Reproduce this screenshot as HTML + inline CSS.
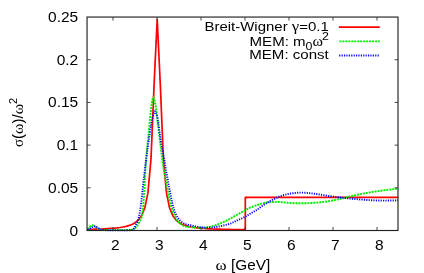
<!DOCTYPE html>
<html><head><meta charset="utf-8"><style>
html,body{margin:0;padding:0;background:#fff;}
svg{display:block;font-family:"Liberation Sans",sans-serif;font-size:14.1px;fill:#000;will-change:transform;}
.sy{font-family:"Liberation Serif",serif;}
</style></head><body>
<svg width="424" height="273" viewBox="0 0 424 273">
<rect width="424" height="273" fill="#fff"/>
<g fill="none" stroke-linejoin="round">
<path d="M87.05,229.43 L89.00,229.38 L92.10,229.31 L95.20,229.21 L98.30,229.11 L101.40,228.98 L104.50,228.84 L107.60,228.66 L110.70,228.45 L113.80,228.20 L116.90,227.88 L120.00,227.48 L123.10,226.97 L126.20,226.31 L129.30,225.42 L132.40,224.18 L135.50,222.41 L138.60,219.74 L141.70,215.45 L144.80,207.97 L147.90,193.13 L151.00,159.10 L154.10,84.55 L157.20,19.33 L160.30,84.55 L163.40,159.10 L166.50,193.13 L169.60,207.97 L172.70,215.45 L175.80,219.74 L178.90,222.41 L182.00,224.18 L185.10,225.42 L188.20,226.31 L191.30,226.97 L194.40,227.48 L197.50,227.88 L200.60,228.20 L203.70,228.45 L206.80,228.66 L209.90,228.84 L213.00,228.98 L216.10,229.11 L219.20,229.21 L222.30,229.31 L225.40,229.38 L228.50,229.45 L231.60,229.51 L234.70,229.57 L237.80,229.62 L240.90,229.66 L244.00,229.70 L245.30,229.71 L245.30,197.40 L398.00,197.40" stroke="#ff0000" stroke-width="1.7"/>
<path d="M87.50,229.30 L88.08,228.59 L88.70,227.93 L89.35,227.32 L90.05,226.73 L90.80,226.09 L91.59,225.56 L92.38,225.31 L93.17,225.43 L93.99,225.83 L94.80,226.36 L95.59,226.85 L96.35,227.39 L97.08,228.00 L97.81,228.60 L98.56,229.11 L99.33,229.45 L100.16,229.58 L101.03,229.68 L101.93,229.76 L102.85,229.83 L103.78,229.88 L104.70,229.90 L105.60,229.90 L106.50,229.90 L107.40,229.90 L108.30,229.90 L109.20,229.90 L110.10,229.90 L111.00,229.90 L111.90,229.90 L112.81,229.90 L113.71,229.90 L114.61,229.90 L115.51,229.90 L116.41,229.90 L117.31,229.90 L118.21,229.90 L119.12,229.90 L120.02,229.90 L120.92,229.90 L121.82,229.90 L122.72,229.90 L123.62,229.90 L124.52,229.90 L125.42,229.90 L126.33,229.90 L127.24,229.89 L128.14,229.87 L129.05,229.86 L129.94,229.83 L130.83,229.81 L131.73,229.73 L132.64,229.52 L133.53,229.22 L134.33,228.88 L135.04,228.46 L135.69,227.87 L136.30,227.16 L136.87,226.39 L137.41,225.63 L137.91,224.89 L138.38,224.12 L138.83,223.33 L139.24,222.53 L139.64,221.72 L140.03,220.90 L140.43,220.08 L140.82,219.25 L141.18,218.41 L141.50,217.56 L141.77,216.71 L141.97,215.85 L142.12,214.98 L142.26,214.12 L142.40,213.24 L142.52,212.36 L142.63,211.48 L142.74,210.59 L142.84,209.70 L142.94,208.80 L143.03,207.90 L143.12,207.00 L143.20,206.10 L143.27,205.19 L143.34,204.29 L143.41,203.38 L143.48,202.47 L143.55,201.56 L143.61,200.65 L143.67,199.74 L143.73,198.84 L143.79,197.93 L143.86,197.03 L143.92,196.12 L143.98,195.22 L144.05,194.33 L144.11,193.43 L144.17,192.53 L144.23,191.63 L144.29,190.73 L144.35,189.83 L144.40,188.93 L144.45,188.03 L144.50,187.13 L144.55,186.23 L144.60,185.33 L144.65,184.43 L144.70,183.53 L144.74,182.63 L144.79,181.73 L144.83,180.83 L144.88,179.93 L144.92,179.03 L144.97,178.13 L145.01,177.23 L145.06,176.33 L145.10,175.43 L145.14,174.53 L145.19,173.63 L145.23,172.73 L145.28,171.83 L145.33,170.93 L145.38,170.03 L145.42,169.13 L145.47,168.23 L145.52,167.33 L145.58,166.43 L145.63,165.53 L145.69,164.63 L145.74,163.73 L145.80,162.83 L145.86,161.93 L145.93,161.03 L145.99,160.14 L146.06,159.24 L146.13,158.34 L146.20,157.44 L146.28,156.54 L146.36,155.65 L146.44,154.75 L146.52,153.85 L146.61,152.96 L146.70,152.06 L146.79,151.16 L146.88,150.27 L146.97,149.37 L147.07,148.47 L147.16,147.58 L147.26,146.68 L147.35,145.78 L147.45,144.89 L147.55,143.99 L147.64,143.09 L147.74,142.20 L147.84,141.30 L147.94,140.41 L148.03,139.51 L148.13,138.61 L148.22,137.72 L148.31,136.82 L148.41,135.92 L148.50,135.03 L148.59,134.13 L148.67,133.23 L148.76,132.34 L148.84,131.44 L148.92,130.54 L149.00,129.64 L149.08,128.74 L149.16,127.84 L149.24,126.95 L149.32,126.05 L149.40,125.15 L149.48,124.25 L149.56,123.35 L149.65,122.45 L149.73,121.55 L149.81,120.66 L149.90,119.76 L149.99,118.86 L150.07,117.97 L150.17,117.07 L150.26,116.17 L150.36,115.28 L150.46,114.38 L150.56,113.49 L150.67,112.60 L150.78,111.70 L150.89,110.81 L151.01,109.92 L151.14,108.96 L151.27,107.91 L151.41,106.79 L151.56,105.63 L151.71,104.45 L151.87,103.28 L152.04,102.14 L152.21,101.06 L152.39,100.06 L152.57,99.18 L152.75,98.42 L152.94,97.83 L153.13,97.42 L153.33,97.22 L153.53,97.28 L153.76,97.67 L154.01,98.35 L154.27,99.24 L154.53,100.28 L154.79,101.42 L155.03,102.57 L155.26,103.69 L155.45,104.70 L155.61,105.59 L155.76,106.48 L155.90,107.36 L156.03,108.25 L156.16,109.14 L156.28,110.03 L156.40,110.92 L156.52,111.82 L156.62,112.71 L156.73,113.61 L156.83,114.50 L156.93,115.40 L157.03,116.30 L157.13,117.20 L157.22,118.10 L157.32,119.00 L157.42,119.90 L157.51,120.79 L157.61,121.69 L157.71,122.59 L157.82,123.49 L157.92,124.38 L158.03,125.28 L158.15,126.17 L158.26,127.06 L158.37,127.96 L158.48,128.85 L158.59,129.75 L158.71,130.64 L158.82,131.54 L158.93,132.43 L159.04,133.32 L159.15,134.22 L159.26,135.11 L159.38,136.01 L159.49,136.90 L159.60,137.79 L159.71,138.69 L159.82,139.58 L159.93,140.48 L160.05,141.37 L160.16,142.27 L160.27,143.16 L160.38,144.05 L160.49,144.95 L160.60,145.84 L160.71,146.74 L160.82,147.63 L160.93,148.53 L161.03,149.42 L161.14,150.32 L161.24,151.21 L161.35,152.11 L161.45,153.01 L161.56,153.90 L161.66,154.80 L161.77,155.69 L161.87,156.59 L161.98,157.48 L162.09,158.38 L162.21,159.27 L162.32,160.16 L162.44,161.06 L162.56,161.95 L162.69,162.84 L162.81,163.73 L162.94,164.62 L163.08,165.51 L163.22,166.40 L163.37,167.29 L163.52,168.18 L163.68,169.06 L163.84,169.95 L164.01,170.84 L164.18,171.72 L164.35,172.61 L164.52,173.49 L164.70,174.37 L164.88,175.26 L165.05,176.14 L165.23,177.03 L165.40,177.91 L165.58,178.80 L165.75,179.68 L165.92,180.57 L166.08,181.45 L166.25,182.34 L166.41,183.23 L166.57,184.11 L166.73,185.00 L166.88,185.89 L167.04,186.78 L167.20,187.67 L167.35,188.56 L167.51,189.44 L167.67,190.33 L167.84,191.22 L168.00,192.10 L168.17,192.99 L168.35,193.87 L168.52,194.75 L168.71,195.63 L168.89,196.51 L169.09,197.39 L169.28,198.27 L169.48,199.15 L169.68,200.04 L169.88,200.92 L170.09,201.80 L170.30,202.68 L170.52,203.56 L170.74,204.44 L170.97,205.31 L171.20,206.18 L171.45,207.05 L171.69,207.92 L171.95,208.78 L172.22,209.64 L172.49,210.50 L172.77,211.34 L173.07,212.19 L173.38,213.03 L173.71,213.87 L174.06,214.71 L174.43,215.55 L174.83,216.37 L175.24,217.17 L175.67,217.95 L176.13,218.71 L176.62,219.46 L177.15,220.20 L177.71,220.93 L178.31,221.64 L178.93,222.30 L179.57,222.92 L180.23,223.49 L180.93,224.06 L181.67,224.62 L182.45,225.15 L183.25,225.61 L184.07,226.00 L184.89,226.27 L185.74,226.46 L186.62,226.60 L187.52,226.73 L188.43,226.83 L189.34,226.93 L190.24,227.03 L191.14,227.12 L192.04,227.21 L192.93,227.29 L193.83,227.37 L194.73,227.43 L195.63,227.48 L196.53,227.52 L197.43,227.56 L198.33,227.60 L199.24,227.63 L200.14,227.66 L201.04,227.68 L201.94,227.69 L202.84,227.70 L203.74,227.68 L204.63,227.63 L205.53,227.54 L206.43,227.42 L207.33,227.28 L208.22,227.13 L209.11,226.96 L209.99,226.80 L210.86,226.62 L211.73,226.40 L212.60,226.14 L213.46,225.87 L214.32,225.58 L215.18,225.28 L216.03,224.99 L216.88,224.70 L217.73,224.39 L218.58,224.08 L219.42,223.76 L220.26,223.42 L221.09,223.08 L221.92,222.73 L222.75,222.37 L223.57,222.00 L224.38,221.62 L225.20,221.23 L226.01,220.83 L226.81,220.43 L227.62,220.02 L228.42,219.60 L229.22,219.19 L230.01,218.76 L230.80,218.33 L231.59,217.89 L232.37,217.45 L233.15,217.00 L233.93,216.55 L234.72,216.10 L235.50,215.65 L236.28,215.20 L237.07,214.76 L237.85,214.32 L238.64,213.88 L239.42,213.44 L240.21,213.00 L241.00,212.56 L241.78,212.12 L242.57,211.68 L243.36,211.24 L244.15,210.81 L244.95,210.39 L245.74,209.97 L246.54,209.54 L247.33,209.11 L248.13,208.68 L248.93,208.27 L249.74,207.87 L250.55,207.49 L251.38,207.14 L252.21,206.81 L253.06,206.49 L253.90,206.19 L254.76,205.89 L255.61,205.60 L256.47,205.31 L257.32,205.03 L258.18,204.73 L259.03,204.43 L259.88,204.13 L260.74,203.85 L261.60,203.60 L262.47,203.39 L263.35,203.18 L264.23,202.99 L265.12,202.81 L266.01,202.65 L266.90,202.51 L267.79,202.40 L268.69,202.31 L269.58,202.22 L270.48,202.14 L271.38,202.08 L272.28,202.03 L273.18,201.99 L274.08,201.97 L274.99,201.94 L275.89,201.92 L276.79,201.91 L277.69,201.90 L278.59,201.91 L279.49,201.95 L280.39,202.01 L281.28,202.10 L282.18,202.19 L283.08,202.30 L283.98,202.40 L284.87,202.49 L285.77,202.58 L286.67,202.68 L287.56,202.78 L288.46,202.87 L289.36,202.95 L290.25,203.02 L291.15,203.07 L292.05,203.13 L292.95,203.18 L293.85,203.22 L294.75,203.26 L295.66,203.28 L296.56,203.30 L297.46,203.30 L298.36,203.30 L299.26,203.29 L300.16,203.28 L301.06,203.27 L301.96,203.26 L302.86,203.25 L303.77,203.23 L304.67,203.22 L305.57,203.20 L306.47,203.18 L307.37,203.16 L308.27,203.12 L309.17,203.09 L310.07,203.05 L310.97,203.00 L311.87,202.96 L312.77,202.90 L313.67,202.85 L314.57,202.79 L315.47,202.74 L316.37,202.67 L317.27,202.61 L318.16,202.53 L319.06,202.44 L319.96,202.35 L320.86,202.25 L321.75,202.15 L322.65,202.04 L323.54,201.93 L324.43,201.81 L325.32,201.69 L326.22,201.55 L327.11,201.41 L328.00,201.27 L328.89,201.12 L329.77,200.97 L330.66,200.82 L331.55,200.66 L332.44,200.49 L333.32,200.33 L334.21,200.16 L335.09,199.98 L335.97,199.80 L336.86,199.62 L337.74,199.43 L338.62,199.24 L339.50,199.05 L340.38,198.85 L341.26,198.65 L342.13,198.45 L343.01,198.24 L343.89,198.02 L344.76,197.80 L345.63,197.58 L346.51,197.36 L347.38,197.15 L348.26,196.94 L349.14,196.73 L350.01,196.53 L350.89,196.32 L351.77,196.12 L352.65,195.92 L353.53,195.72 L354.40,195.51 L355.28,195.31 L356.16,195.10 L357.04,194.89 L357.91,194.69 L358.79,194.48 L359.67,194.28 L360.55,194.09 L361.43,193.91 L362.32,193.75 L363.21,193.59 L364.09,193.43 L364.98,193.28 L365.87,193.13 L366.76,192.98 L367.65,192.83 L368.53,192.67 L369.42,192.51 L370.31,192.34 L371.19,192.18 L372.08,192.02 L372.97,191.87 L373.86,191.72 L374.75,191.58 L375.64,191.45 L376.53,191.33 L377.43,191.20 L378.32,191.08 L379.21,190.96 L380.11,190.84 L381.00,190.72 L381.89,190.60 L382.78,190.49 L383.68,190.37 L384.57,190.25 L385.47,190.14 L386.36,190.02 L387.25,189.91 L388.15,189.80 L389.04,189.69 L389.94,189.59 L390.83,189.48 L391.73,189.38 L392.62,189.28 L393.52,189.18 L394.42,189.08 L395.31,188.98 L396.21,188.89 L397.10,188.79 L398.00,188.70" stroke="#00f000" stroke-width="1.9" stroke-dasharray="2.0,0.97"/>
<path d="M87.50,229.60 L88.28,229.26 L89.06,228.92 L89.83,228.58 L90.60,228.19 L91.37,227.72 L92.13,227.24 L92.89,226.80 L93.66,226.47 L94.43,226.31 L95.21,226.38 L96.01,226.65 L96.80,227.05 L97.58,227.48 L98.33,227.89 L99.04,228.41 L99.74,228.95 L100.45,229.40 L101.21,229.65 L102.02,229.79 L102.87,229.90 L103.73,229.99 L104.60,230.07 L105.45,230.14 L106.29,230.21 L107.14,230.28 L107.99,230.33 L108.84,230.38 L109.69,230.40 L110.53,230.40 L111.38,230.40 L112.23,230.40 L113.08,230.40 L113.93,230.40 L114.78,230.40 L115.63,230.40 L116.48,230.40 L117.33,230.40 L118.18,230.40 L119.03,230.40 L119.88,230.40 L120.73,230.40 L121.58,230.40 L122.43,230.39 L123.28,230.38 L124.13,230.37 L124.98,230.36 L125.83,230.35 L126.68,230.33 L127.52,230.31 L128.37,230.29 L129.24,230.23 L130.11,230.14 L130.96,230.01 L131.76,229.85 L132.53,229.61 L133.30,229.16 L133.99,228.57 L134.53,227.96 L134.93,227.28 L135.26,226.49 L135.55,225.66 L135.86,224.83 L136.21,224.05 L136.61,223.29 L137.01,222.54 L137.38,221.78 L137.70,221.00 L137.97,220.20 L138.22,219.39 L138.45,218.58 L138.67,217.75 L138.88,216.92 L139.07,216.09 L139.25,215.26 L139.42,214.42 L139.58,213.59 L139.73,212.76 L139.87,211.92 L140.01,211.09 L140.15,210.25 L140.27,209.41 L140.40,208.57 L140.52,207.73 L140.63,206.88 L140.75,206.04 L140.86,205.20 L140.96,204.35 L141.07,203.51 L141.17,202.66 L141.28,201.82 L141.38,200.97 L141.48,200.13 L141.59,199.29 L141.68,198.45 L141.78,197.60 L141.87,196.76 L141.97,195.91 L142.06,195.07 L142.14,194.22 L142.23,193.38 L142.32,192.53 L142.40,191.69 L142.48,190.84 L142.57,190.00 L142.65,189.15 L142.73,188.31 L142.82,187.46 L142.90,186.62 L142.99,185.77 L143.07,184.92 L143.16,184.08 L143.25,183.24 L143.34,182.39 L143.44,181.55 L143.53,180.70 L143.63,179.86 L143.73,179.02 L143.83,178.17 L143.94,177.33 L144.04,176.49 L144.14,175.64 L144.25,174.80 L144.36,173.96 L144.46,173.11 L144.57,172.27 L144.68,171.43 L144.79,170.59 L144.89,169.74 L145.00,168.90 L145.11,168.06 L145.22,167.22 L145.33,166.37 L145.43,165.53 L145.54,164.69 L145.64,163.85 L145.75,163.00 L145.85,162.16 L145.96,161.32 L146.06,160.47 L146.17,159.63 L146.27,158.79 L146.38,157.94 L146.48,157.10 L146.59,156.26 L146.70,155.42 L146.80,154.57 L146.91,153.73 L147.02,152.89 L147.13,152.05 L147.24,151.20 L147.35,150.36 L147.46,149.52 L147.58,148.68 L147.69,147.84 L147.81,147.00 L147.92,146.15 L148.04,145.31 L148.15,144.47 L148.27,143.63 L148.39,142.79 L148.51,141.95 L148.63,141.11 L148.75,140.26 L148.87,139.42 L148.99,138.58 L149.12,137.74 L149.24,136.90 L149.37,136.06 L149.50,135.22 L149.62,134.38 L149.76,133.54 L149.89,132.71 L150.02,131.87 L150.15,131.03 L150.28,130.19 L150.41,129.34 L150.54,128.50 L150.67,127.66 L150.81,126.82 L150.94,125.97 L151.08,125.13 L151.22,124.29 L151.36,123.45 L151.51,122.62 L151.67,121.78 L151.84,120.95 L152.01,120.12 L152.19,119.30 L152.38,118.48 L152.59,117.65 L152.82,116.69 L153.08,115.65 L153.36,114.59 L153.65,113.57 L153.96,112.67 L154.28,111.94 L154.59,111.47 L154.91,111.30 L155.26,111.55 L155.64,112.17 L156.03,113.05 L156.41,114.06 L156.74,115.08 L157.00,115.98 L157.20,116.79 L157.38,117.60 L157.55,118.43 L157.71,119.26 L157.86,120.09 L157.99,120.93 L158.12,121.78 L158.25,122.62 L158.36,123.47 L158.48,124.32 L158.60,125.17 L158.71,126.02 L158.83,126.87 L158.96,127.71 L159.08,128.55 L159.21,129.39 L159.33,130.23 L159.45,131.07 L159.57,131.91 L159.68,132.76 L159.79,133.60 L159.91,134.44 L160.02,135.28 L160.13,136.12 L160.25,136.97 L160.37,137.81 L160.49,138.65 L160.61,139.49 L160.74,140.33 L160.87,141.17 L161.00,142.01 L161.14,142.84 L161.29,143.68 L161.44,144.51 L161.60,145.35 L161.76,146.18 L161.93,147.01 L162.09,147.85 L162.26,148.68 L162.43,149.51 L162.60,150.35 L162.77,151.18 L162.93,152.01 L163.10,152.85 L163.26,153.68 L163.41,154.52 L163.56,155.35 L163.71,156.19 L163.85,157.03 L164.00,157.86 L164.14,158.70 L164.28,159.54 L164.41,160.38 L164.55,161.22 L164.69,162.05 L164.82,162.89 L164.96,163.73 L165.09,164.57 L165.23,165.41 L165.37,166.25 L165.51,167.08 L165.64,167.92 L165.79,168.76 L165.93,169.60 L166.08,170.43 L166.22,171.27 L166.37,172.11 L166.52,172.94 L166.67,173.78 L166.82,174.61 L166.98,175.45 L167.13,176.29 L167.28,177.12 L167.44,177.96 L167.59,178.79 L167.75,179.63 L167.90,180.46 L168.05,181.30 L168.21,182.13 L168.36,182.97 L168.51,183.81 L168.66,184.64 L168.81,185.48 L168.96,186.32 L169.11,187.15 L169.26,187.99 L169.41,188.83 L169.56,189.66 L169.71,190.50 L169.87,191.33 L170.03,192.17 L170.19,193.00 L170.35,193.83 L170.51,194.67 L170.68,195.50 L170.86,196.33 L171.03,197.16 L171.21,197.99 L171.39,198.82 L171.57,199.66 L171.74,200.50 L171.92,201.33 L172.11,202.17 L172.29,203.00 L172.49,203.84 L172.68,204.67 L172.89,205.50 L173.10,206.32 L173.31,207.14 L173.54,207.96 L173.78,208.77 L174.03,209.57 L174.28,210.37 L174.56,211.16 L174.85,211.95 L175.17,212.74 L175.51,213.53 L175.88,214.31 L176.26,215.09 L176.67,215.84 L177.10,216.58 L177.54,217.30 L177.99,217.99 L178.48,218.68 L179.00,219.36 L179.56,220.04 L180.15,220.69 L180.77,221.30 L181.41,221.86 L182.07,222.35 L182.76,222.78 L183.50,223.17 L184.27,223.54 L185.08,223.87 L185.90,224.16 L186.72,224.42 L187.53,224.64 L188.35,224.82 L189.18,224.98 L190.03,225.13 L190.87,225.28 L191.70,225.44 L192.54,225.62 L193.37,225.81 L194.19,226.00 L195.02,226.20 L195.85,226.39 L196.68,226.57 L197.51,226.72 L198.35,226.85 L199.19,226.98 L200.03,227.10 L200.88,227.22 L201.72,227.33 L202.57,227.43 L203.41,227.51 L204.26,227.57 L205.11,227.60 L205.96,227.60 L206.80,227.59 L207.65,227.58 L208.51,227.57 L209.36,227.55 L210.20,227.52 L211.05,227.50 L211.90,227.46 L212.75,227.39 L213.59,227.30 L214.44,227.20 L215.28,227.09 L216.12,226.98 L216.96,226.86 L217.80,226.71 L218.63,226.55 L219.46,226.37 L220.29,226.19 L221.12,226.00 L221.95,225.81 L222.78,225.62 L223.61,225.44 L224.44,225.24 L225.27,225.04 L226.10,224.83 L226.92,224.62 L227.74,224.39 L228.55,224.14 L229.35,223.88 L230.14,223.60 L230.93,223.29 L231.71,222.96 L232.49,222.61 L233.26,222.26 L234.03,221.89 L234.80,221.52 L235.57,221.16 L236.35,220.80 L237.12,220.45 L237.90,220.10 L238.68,219.76 L239.46,219.42 L240.24,219.08 L241.02,218.74 L241.80,218.40 L242.57,218.04 L243.34,217.68 L244.10,217.31 L244.86,216.93 L245.60,216.54 L246.34,216.12 L247.07,215.68 L247.79,215.23 L248.51,214.78 L249.22,214.32 L249.94,213.86 L250.66,213.41 L251.39,212.97 L252.12,212.54 L252.86,212.11 L253.60,211.69 L254.34,211.27 L255.07,210.84 L255.80,210.41 L256.52,209.96 L257.24,209.51 L257.94,209.03 L258.62,208.53 L259.30,208.02 L259.97,207.50 L260.65,206.98 L261.33,206.47 L262.03,205.98 L262.73,205.51 L263.44,205.05 L264.16,204.59 L264.88,204.14 L265.60,203.70 L266.33,203.26 L267.07,202.83 L267.80,202.40 L268.54,201.98 L269.28,201.57 L270.02,201.16 L270.77,200.76 L271.52,200.36 L272.28,199.97 L273.04,199.58 L273.79,199.20 L274.55,198.82 L275.31,198.44 L276.08,198.07 L276.85,197.71 L277.62,197.36 L278.40,197.03 L279.19,196.70 L279.98,196.38 L280.77,196.07 L281.57,195.77 L282.37,195.50 L283.18,195.25 L283.99,195.01 L284.81,194.78 L285.63,194.56 L286.46,194.36 L287.29,194.17 L288.12,193.99 L288.95,193.83 L289.79,193.69 L290.63,193.55 L291.47,193.42 L292.31,193.30 L293.15,193.19 L294.00,193.10 L294.84,193.01 L295.69,192.92 L296.53,192.83 L297.38,192.75 L298.23,192.68 L299.08,192.63 L299.93,192.60 L300.77,192.60 L301.62,192.62 L302.47,192.64 L303.32,192.68 L304.17,192.73 L305.02,192.78 L305.87,192.84 L306.71,192.91 L307.56,192.97 L308.41,193.03 L309.25,193.10 L310.10,193.18 L310.94,193.27 L311.79,193.36 L312.63,193.46 L313.48,193.57 L314.32,193.68 L315.16,193.79 L316.00,193.90 L316.84,194.02 L317.68,194.15 L318.52,194.30 L319.36,194.44 L320.19,194.59 L321.03,194.74 L321.87,194.88 L322.71,195.01 L323.54,195.15 L324.38,195.29 L325.22,195.42 L326.06,195.55 L326.90,195.68 L327.74,195.81 L328.58,195.94 L329.42,196.06 L330.26,196.18 L331.10,196.30 L331.94,196.42 L332.79,196.53 L333.63,196.64 L334.47,196.75 L335.31,196.86 L336.15,196.97 L337.00,197.08 L337.84,197.18 L338.68,197.28 L339.53,197.38 L340.37,197.48 L341.22,197.57 L342.06,197.67 L342.90,197.76 L343.75,197.85 L344.59,197.94 L345.44,198.03 L346.28,198.12 L347.13,198.21 L347.97,198.30 L348.82,198.39 L349.66,198.48 L350.51,198.57 L351.35,198.66 L352.20,198.75 L353.04,198.83 L353.89,198.91 L354.73,199.00 L355.58,199.07 L356.42,199.15 L357.27,199.22 L358.12,199.29 L358.96,199.36 L359.81,199.43 L360.66,199.50 L361.50,199.57 L362.35,199.63 L363.20,199.70 L364.04,199.76 L364.89,199.82 L365.74,199.87 L366.59,199.93 L367.44,199.98 L368.28,200.03 L369.13,200.08 L369.98,200.12 L370.83,200.17 L371.68,200.21 L372.52,200.25 L373.37,200.29 L374.22,200.33 L375.07,200.37 L375.92,200.40 L376.77,200.43 L377.62,200.46 L378.47,200.49 L379.32,200.52 L380.16,200.55 L381.01,200.57 L381.86,200.59 L382.71,200.60 L383.56,200.60 L384.41,200.60 L385.26,200.59 L386.11,200.58 L386.96,200.57 L387.81,200.55 L388.66,200.54 L389.51,200.52 L390.36,200.51 L391.21,200.50 L392.05,200.49 L392.90,200.47 L393.75,200.46 L394.60,200.45 L395.45,200.44 L396.30,200.42 L397.15,200.41 L398.00,200.40" stroke="#0000ff" stroke-width="1.9" stroke-dasharray="1.15,1.25"/>
<path d="M338.9,27.1 H379.8" stroke="#ff0000" stroke-width="1.7"/>
<path d="M339.4,41.4 H379.8" stroke="#00f000" stroke-width="1.9" stroke-dasharray="2.0,0.97"/>
<path d="M339.2,55.5 H379.8" stroke="#0000ff" stroke-width="1.9" stroke-dasharray="1.15,1.25"/>
</g>
<g fill="none" stroke="#222" stroke-width="1.15">
<rect x="87.05" y="17.05" width="310.95" height="213.45"/>
</g>
<g fill="none" stroke="#333" stroke-width="0.9">
<path d="M113.00,230.5 V227.0 M113.00,17.05 V20.55"/><path d="M157.00,230.5 V227.0 M157.00,17.05 V20.55"/><path d="M201.00,230.5 V227.0 M201.00,17.05 V20.55"/><path d="M245.00,230.5 V227.0 M245.00,17.05 V20.55"/><path d="M289.00,230.5 V227.0 M289.00,17.05 V20.55"/><path d="M333.00,230.5 V227.0 M333.00,17.05 V20.55"/><path d="M377.00,230.5 V227.0 M377.00,17.05 V20.55"/><path d="M87.05,187.81 H90.55 M398,187.81 H394.5"/><path d="M87.05,145.12 H90.55 M398,145.12 H394.5"/><path d="M87.05,102.43 H90.55 M398,102.43 H394.5"/><path d="M87.05,59.74 H90.55 M398,59.74 H394.5"/>
</g>
<text transform="translate(115.30,249.8) scale(1.1,1)" text-anchor="middle">2</text><text transform="translate(159.30,249.8) scale(1.1,1)" text-anchor="middle">3</text><text transform="translate(203.30,249.8) scale(1.1,1)" text-anchor="middle">4</text><text transform="translate(247.30,249.8) scale(1.1,1)" text-anchor="middle">5</text><text transform="translate(291.30,249.8) scale(1.1,1)" text-anchor="middle">6</text><text transform="translate(335.30,249.8) scale(1.1,1)" text-anchor="middle">7</text><text transform="translate(379.30,249.8) scale(1.1,1)" text-anchor="middle">8</text>
<text transform="translate(78.2,235.50) scale(1.1,1)" text-anchor="end">0</text><text transform="translate(78.2,192.81) scale(1.1,1)" text-anchor="end">0.05</text><text transform="translate(78.2,150.12) scale(1.1,1)" text-anchor="end">0.1</text><text transform="translate(78.2,107.43) scale(1.1,1)" text-anchor="end">0.15</text><text transform="translate(78.2,64.74) scale(1.1,1)" text-anchor="end">0.2</text><text transform="translate(78.2,22.05) scale(1.1,1)" text-anchor="end">0.25</text>
<text transform="translate(328.8,31.2) scale(1.118,1)" font-size="13.4" text-anchor="end">Breit-Wigner <tspan class="sy" font-size="15">γ</tspan>=0.1</text>
<text transform="translate(329.0,45.6) scale(1.125,1)" font-size="13.4" text-anchor="end">MEM: m<tspan dy="4.4" font-size="11">0</tspan><tspan dy="-4.4" class="sy" font-size="14.2">ω</tspan><tspan dy="-5.6" dx="-0.8" font-size="11">2</tspan></text>
<text transform="translate(328.8,59.0) scale(1.125,1)" font-size="13.4" text-anchor="end">MEM: const</text>
<text transform="translate(215.6,269.8) scale(1.09,1)"><tspan class="sy" font-size="15.5">ω</tspan> [GeV]</text>
<text transform="translate(23,147) rotate(-90) scale(1.06,1)"><tspan class="sy">σ</tspan>(<tspan class="sy" font-size="15">ω</tspan>)/<tspan class="sy" font-size="15">ω</tspan><tspan dy="-6" font-size="10.5">2</tspan></text>
</svg>
</body></html>
